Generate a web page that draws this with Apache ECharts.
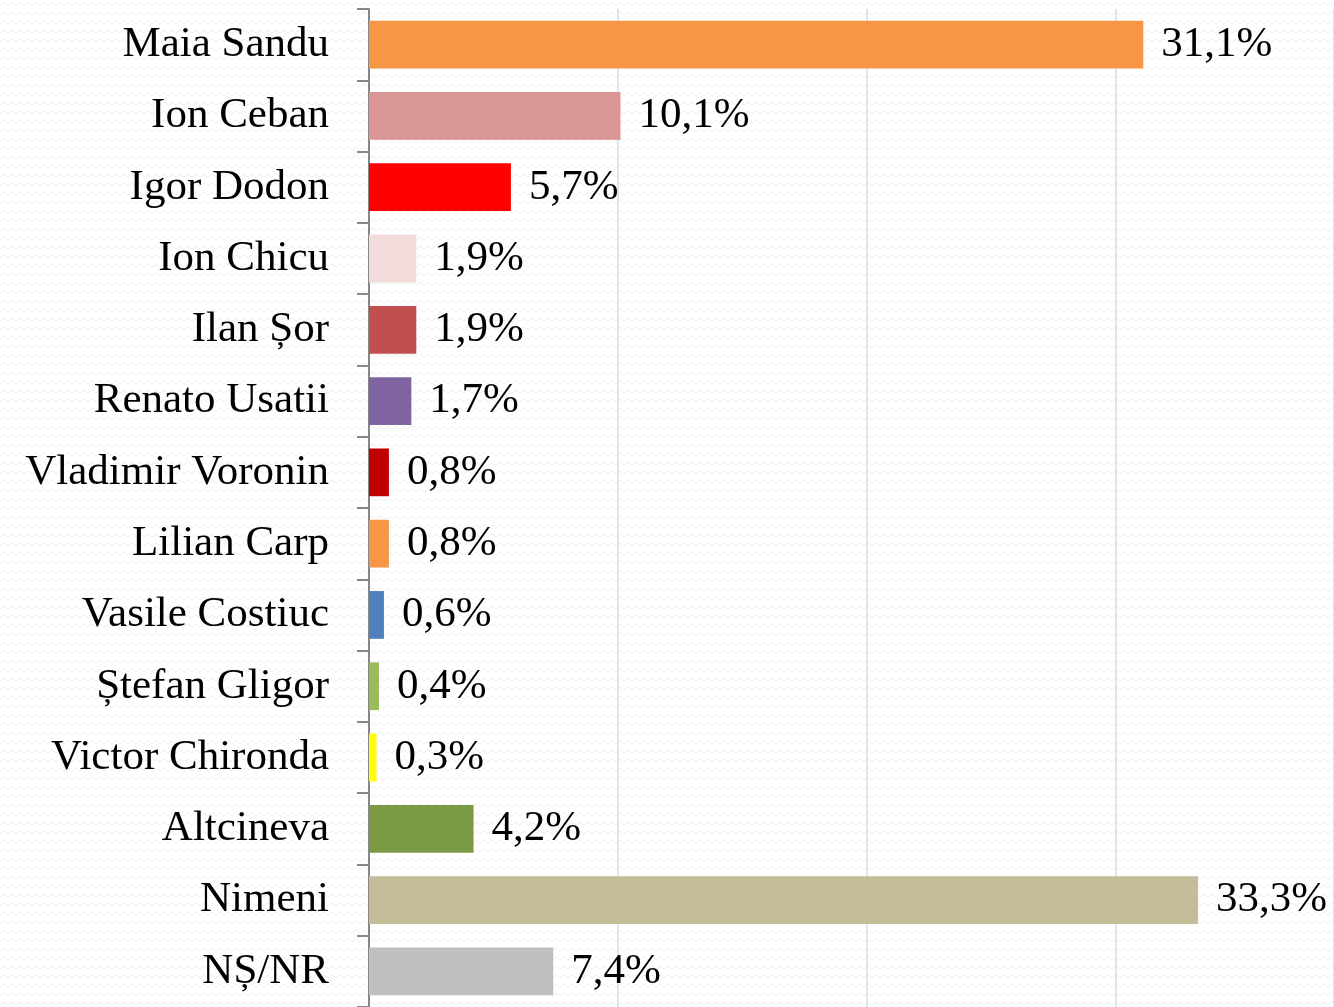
<!DOCTYPE html>
<html>
<head>
<meta charset="utf-8">
<script src="https://cdn.jsdelivr.net/npm/echarts@6/dist/echarts.min.js"></script>
<style>
  html, body { margin: 0; padding: 0; background: #fff; }
  #chart { width: 1334px; height: 1007px; }
</style>
</head>
<body>
<div id="chart"></div>
<script>
const candidates = [
  "Maia Sandu", "Ion Ceban", "Igor Dodon", "Ion Chicu", "Ilan Șor",
  "Renato Usatii", "Vladimir Voronin", "Lilian Carp", "Vasile Costiuc",
  "Ștefan Gligor", "Victor Chironda", "Altcineva", "Nimeni", "NȘ/NR"
];
const shares = [31.1, 10.1, 5.7, 1.9, 1.9, 1.7, 0.8, 0.8, 0.6, 0.4, 0.3, 4.2, 33.3, 7.4];
const barColors = [
  "#F79646", "#D99694", "#FF0000", "#F2DCDB", "#C0504D",
  "#8064A2", "#C00000", "#F79646", "#4F81BD", "#9BBB59",
  "#FFFF00", "#7B9A45", "#C4BD97", "#BFBFBF"
];

// faint zigzag background like the slide theme
function zigzag() {
  const c = document.createElement("canvas");
  c.width = 8; c.height = 9;
  const ctx = c.getContext("2d");
  ctx.fillStyle = "#ffffff";
  ctx.fillRect(0, 0, 8, 9);
  ctx.strokeStyle = "#eeeeee";
  ctx.lineWidth = 1;
  ctx.beginPath();
  ctx.moveTo(0, 6); ctx.lineTo(4, 3); ctx.lineTo(8, 6);
  ctx.stroke();
  return c;
}

const font = "'Liberation Serif', 'DejaVu Serif', serif";
const chart = echarts.init(document.getElementById("chart"));
chart.setOption({
  backgroundColor: { image: zigzag(), repeat: "repeat" },
  animation: false,
  // the source plot runs past the right edge (40% would sit at ~1365px)
  grid: { left: 369, top: 9, right: 0, height: 1000 },
  xAxis: {
    type: "value",
    min: 0,
    max: 38.76,
    interval: 10,
    axisLine: { show: false },
    axisTick: { show: false },
    axisLabel: { show: false },
    splitLine: { lineStyle: { color: "#dbe5f1", width: 2 } }
  },
  yAxis: {
    type: "category",
    inverse: true,
    data: candidates,
    axisLine: { lineStyle: { color: "#878787", width: 2 } },
    axisTick: { show: true, alignWithLabel: false, length: 12, lineStyle: { color: "#878787", width: 2 } },
    axisLabel: { margin: 40, color: "#000", fontSize: 43, fontFamily: font, padding: [6, 0, 0, 0] }
  },
  series: [{
    type: "bar",
    data: shares.map((v, i) => ({ value: v, itemStyle: { color: barColors[i] } })),
    barCategoryGap: "33%",
    label: {
      show: true,
      position: "right",
      distance: 18,
      color: "#000",
      fontSize: 43,
      fontFamily: font,
      padding: [6, 0, 0, 0],
      formatter: (p) => p.value.toFixed(1).replace(".", ",") + "%"
    }
  }]
});
</script>
</body>
</html>
